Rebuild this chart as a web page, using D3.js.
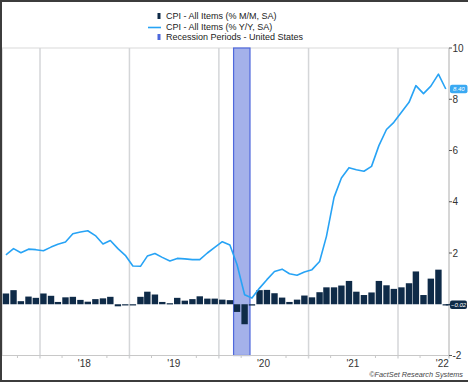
<!DOCTYPE html>
<html><head><meta charset="utf-8">
<script src="https://cdn.jsdelivr.net/npm/d3@7/dist/d3.min.js"></script>
<style>
html,body{margin:0;padding:0;background:#fff;}
svg{display:block;font-family:Arial,"Liberation Sans",sans-serif;}
</style></head>
<body>
<svg id="chart" width="468" height="382"></svg>
<script>
// ---- data (monthly, Aug 2017 .. Jul 2022) ----
const months = [
 "2017-08","2017-09","2017-10","2017-11","2017-12",
 "2018-01","2018-02","2018-03","2018-04","2018-05","2018-06","2018-07","2018-08","2018-09","2018-10","2018-11","2018-12",
 "2019-01","2019-02","2019-03","2019-04","2019-05","2019-06","2019-07","2019-08","2019-09","2019-10","2019-11","2019-12",
 "2020-01","2020-02","2020-03","2020-04","2020-05","2020-06","2020-07","2020-08","2020-09","2020-10","2020-11","2020-12",
 "2021-01","2021-02","2021-03","2021-04","2021-05","2021-06","2021-07","2021-08","2021-09","2021-10","2021-11","2021-12",
 "2022-01","2022-02","2022-03","2022-04","2022-05","2022-06","2022-07"];
const cpiMoM = [
 0.42,0.55,0.12,0.30,0.25,
 0.42,0.33,0.09,0.27,0.29,0.17,0.10,0.20,0.23,0.29,-0.08,-0.03,
 -0.02,0.29,0.49,0.38,0.09,0.04,0.25,0.14,0.20,0.31,0.22,0.22,
 0.18,0.16,-0.30,-0.78,-0.05,0.55,0.56,0.43,0.26,0.09,0.18,0.34,
 0.27,0.47,0.66,0.66,0.73,0.91,0.49,0.36,0.46,0.91,0.74,0.60,
 0.66,0.82,1.28,0.36,1.00,1.35,-0.02];
const cpiYoY = [
 1.93,2.17,2.01,2.15,2.13,
 2.09,2.23,2.34,2.43,2.75,2.82,2.87,2.68,2.35,2.49,2.17,1.91,
 1.49,1.48,1.88,1.98,1.83,1.69,1.79,1.77,1.74,1.74,2.00,2.22,
 2.44,2.31,1.55,0.37,0.24,0.63,0.96,1.28,1.37,1.19,1.13,1.26,
 1.35,1.67,2.65,4.17,4.93,5.33,5.25,5.19,5.38,6.19,6.82,7.10,
 7.49,7.88,8.53,8.22,8.51,8.98,8.40];
const recession = [["2020-03-01","2020-05-07"]];
const yTicks = [-2,0,2,4,6,8,10];
const yearTicks = ["2018-01-01","2019-01-01","2020-01-01","2021-01-01","2022-01-01"];
const yearLabels = ["'18","'19","'20","'21","'22"];
const legendLabels = ["CPI - All Items (% M/M, SA)","CPI - All Items (% Y/Y, SA)","Recession Periods - United States"];

// ---- layout ----
const W=468,H=382;
const plotL=2, plotR=449, plotT=48, plotB=355.5;
const C = {bar:"#0f2b48", line:"#27a3f5", grid:"#d4d6d8", recFill:"#a4b1ea", recStroke:"#4f68dc", text:"#333"};

const svg = d3.select("#chart");
const parseM = d3.timeParse("%Y-%m");
const parseD = d3.timeParse("%Y-%m-%d");
const mid = m => { const d=parseM(m); return new Date(d.getFullYear(), d.getMonth(), 15); };

const x = d3.scaleTime().domain([parseD("2018-01-01"), parseD("2022-01-01")]).range([40,398]);
const y = d3.scaleLinear().domain([-2,10]).range([plotB, plotT]);

const data = months.map((m,i)=>({d:mid(m), mom:cpiMoM[i], yoy:cpiYoY[i]}));

// border of picture
svg.append("rect").attr("x",0).attr("y",0).attr("width",W).attr("height",H).attr("fill","#fff");
svg.append("path").attr("d",`M${W},1 H1 V${H-1} H${W}`).attr("fill","none").attr("stroke","#3c3c3c").attr("stroke-width",2);

// plot frame
svg.append("line").attr("x1",plotL).attr("x2",plotR).attr("y1",plotT).attr("y2",plotT).attr("stroke","#e6e6e6").attr("stroke-width",1.5);
svg.append("line").attr("x1",plotL+0.5).attr("x2",plotL+0.5).attr("y1",plotT).attr("y2",plotB).attr("stroke","#e0e0e0").attr("stroke-width",1);

// vertical gridlines at year boundaries
svg.append("g").selectAll("line").data(yearTicks).join("line")
  .attr("x1",d=>x(parseD(d))).attr("x2",d=>x(parseD(d)))
  .attr("y1",plotT).attr("y2",plotB+3)
  .attr("stroke",C.grid).attr("stroke-width",1.5);

// recession band
svg.append("g").selectAll("rect").data(recession).join("rect")
  .attr("x",d=>x(parseD(d[0]))).attr("width",d=>x(parseD(d[1]))-x(parseD(d[0])))
  .attr("y",plotT).attr("height",plotB-plotT)
  .attr("fill",C.recFill).attr("stroke",C.recStroke).attr("stroke-width",1.2);

// bars
const bw = 6.4;
svg.append("g").selectAll("rect").data(data).join("rect")
  .attr("x",d=>x(d.d)-bw/2).attr("width",bw)
  .attr("y",d=>Math.min(y(d.mom),y(0)))
  .attr("height",d=>Math.max(1.2,Math.abs(y(d.mom)-y(0))))
  .attr("fill",C.bar);

// line
svg.append("path").datum(data)
  .attr("d",d3.line().x(d=>x(d.d)).y(d=>y(d.yoy)))
  .attr("fill","none").attr("stroke",C.line).attr("stroke-width",1.6).attr("stroke-linejoin","round");

// bottom axis
svg.append("line").attr("x1",plotL).attr("x2",plotR).attr("y1",plotB).attr("y2",plotB).attr("stroke","#c8c8c8").attr("stroke-width",1.2);
const minor = d3.timeMonth.every(3).range(parseD("2017-10-01"), parseD("2022-08-01")).filter(d=>d.getMonth()!==0 && d.getMonth()!==6);
svg.append("g").selectAll("line").data(minor).join("line")
  .attr("x1",d=>x(d)).attr("x2",d=>x(d)).attr("y1",plotB).attr("y2",plotB+2.5)
  .attr("stroke","#c8c8c8").attr("stroke-width",1);
svg.append("g").selectAll("text").data(yearTicks).join("text")
  .attr("x",(d,i)=>x(new Date(parseD(d).getFullYear(),6,1)))
  .attr("y",367).attr("text-anchor","middle")
  .attr("font-size",10).attr("fill",C.text)
  .text((d,i)=>yearLabels[i]);

// right axis (the 0 label sits under the M/M end-value badge, as in the original)
svg.append("line").attr("x1",plotR).attr("x2",plotR).attr("y1",plotT).attr("y2",plotB+3).attr("stroke","#c8c8c8").attr("stroke-width",1.5);
const ya = svg.append("g");
ya.selectAll("line").data(yTicks).join("line")
  .attr("x1",plotR).attr("x2",plotR+3).attr("y1",d=>y(d)).attr("y2",d=>y(d))
  .attr("stroke","#555").attr("stroke-width",1);
ya.selectAll("text").data(yTicks.filter(d=>d!==0)).join("text")
  .attr("x",plotR+3.5).attr("y",d=>y(d)+3.6)
  .attr("font-size",10).attr("fill",C.text)
  .text(d=>d);

// end-value badges
const last = data[data.length-1];
function badge(val, fill, label, wdt){
  const cy = y(val);
  svg.append("rect").attr("x",plotR+1).attr("y",cy-4.2).attr("width",wdt).attr("height",8.4)
    .attr("rx",2).attr("fill",fill);
  svg.append("text").attr("x",plotR+1+wdt/2).attr("y",cy+2.2).attr("text-anchor","middle")
    .attr("font-size",6).attr("font-style","italic").attr("fill","#fff").text(label);
}
svg.append("line").attr("x1",x(last.d)).attr("x2",plotR+2).attr("y1",y(last.mom)).attr("y2",y(last.mom))
  .attr("stroke",C.bar).attr("stroke-width",1.2);
badge(last.yoy, "#3aa9f2", d3.format(".2f")(last.yoy), 17.5);
badge(last.mom, C.bar, d3.format(".2f")(last.mom), 17);

// legend
const lg = svg.append("g").attr("font-size",9).attr("fill","#222");
const ly = [16, 26.5, 37];
lg.append("rect").attr("x",157.5).attr("y",ly[0]-3).attr("width",3).attr("height",6).attr("fill",C.bar);
lg.append("line").attr("x1",148).attr("x2",161).attr("y1",ly[1]+1).attr("y2",ly[1]+1).attr("stroke",C.line).attr("stroke-width",1.6);
lg.append("rect").attr("x",157.5).attr("y",ly[2]-3).attr("width",3).attr("height",6).attr("fill","#4d68dc");
lg.selectAll("text").data(legendLabels).join("text")
  .attr("x",166).attr("y",(d,i)=>ly[i]+3.2).text(d=>d);

// copyright
svg.append("text").attr("x",463).attr("y",377).attr("text-anchor","end")
  .attr("font-size",7.3).attr("font-style","italic").attr("fill","#444")
  .text("©FactSet Research Systems");
</script>
</body></html>
